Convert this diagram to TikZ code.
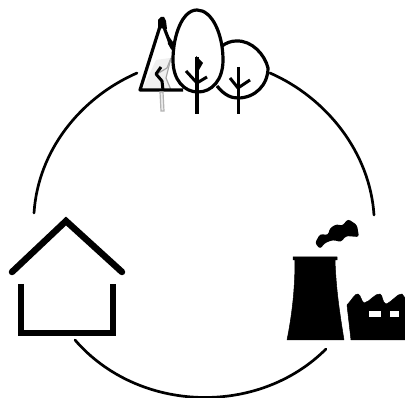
\documentclass[tikz,border=0pt]{standalone}
\tikzset{
    ring/.style={line width=2.7pt, line cap=round},
    outline/.style={line width=3.2pt, line join=round},
    twig/.style={line width=3pt, line cap=butt, line join=round},
    wall/.style={line width=6.5pt, line join=miter},
    solid black/.style={fill=black, draw=black, line width=0.5pt, line join=round}
}
\begin{document}
\begin{tikzpicture}[x=1pt, y=-1pt]
    \useasboundingbox (0,0) rectangle (405,398);

    % Ring between the three symbols
    \coordinate (TL) at (137,73);
    \coordinate (ML) at (34,213);
    \coordinate (TR) at (270,73);
    \coordinate (MR) at (374,215);
    \coordinate (BL) at (75,340);
    \coordinate (BR) at (326,349);
    \draw[ring] (TL) .. controls (80,98) and (38,151) .. (ML);
    \draw[ring] (TR) .. controls (327,98) and (370,153) .. (MR);
    \draw[ring] (BL) .. controls (138,413) and (258,417) .. (BR);

    % Conifer
    \fill[gray!12] (142,90) -- (156,60) -- (170,58) -- (166,78) -- (170,90) -- cycle;
    \draw[gray!70, line width=1.2pt] (171,58) -- (167,68) -- (157,74);
    \draw[gray!70, line width=1.2pt] (171,58) -- (166,78) -- (171,90);
    \draw[outline] (172,48) -- (165,30) -- (162,20) -- (140,90) -- (183,90);
    \fill (158,20) -- (161,17) -- (164,17) -- (166,21) -- (167,29) -- (158,28) -- cycle;
    \fill (167,34) -- (173,42) -- (173,52) -- (168,44) -- cycle;
    \draw[gray!60, line width=1.2pt, fill=gray!15] (160,92) -- (161,111) -- (164,111) -- (163,92) -- cycle;
    \draw[twig] (163,90) -- (162,81) -- (156,74) -- (161,67);

    % Small tree
    \draw[outline] (217,86) .. controls (225,96) and (232,98) .. (238,98)
        .. controls (255,98) and (268,85) .. (268,68)
        .. controls (265,55) and (252,40) .. (236,41)
        .. controls (231,41) and (226,43) .. (222,46);
    \draw[line width=3pt] (238,67) -- (238,114);
    \draw[twig] (230,78) -- (238,88) -- (250,80);

    % Big tree
    \draw[outline, fill=white] (197,10) .. controls (182,10) and (173,36) .. (173,60)
        .. controls (173,80) and (184,92) .. (198,92)
        .. controls (212,92) and (223,80) .. (223,60)
        .. controls (223,34) and (212,10) .. (197,10) -- cycle;
    \draw[line width=3.4pt] (197,57) -- (197,114);
    \fill (196,56) -- (203,63) -- (199,70) -- cycle;
    \draw[twig] (186,71) -- (197,83) -- (207,77);

    % House
    \draw[wall, line cap=round] (12,272) -- (66,221) -- (122,272);
    \draw[wall] (21,284) -- (21,333) -- (113,333) -- (113,284);

    % Cooling tower with smoke
    \draw[solid black] (293,257) -- (337,257) -- (337,260) -- (335,260)
        .. controls (336,290) and (340,315) .. (344,340)
        -- (287,340) .. controls (292,315) and (295,290) .. (295,260)
        -- (293,260) -- cycle;
    \fill[black, rounded corners=2.5pt] (315,243) -- (320,234) -- (328,235) -- (330,228)
        -- (337,224) -- (342,226) -- (348,219) -- (357,225) -- (359,237) -- (346,236)
        -- (341,242) -- (333,240) -- (325,243) -- (320,249) -- cycle;

    % Factory
    \draw[solid black] (351,340) -- (347,305) .. controls (352,300) and (355,293) .. (358,294)
        .. controls (361,295) and (361,301) .. (364,303)
        .. controls (370,302) and (375,293) .. (380,294)
        .. controls (383,295) and (382,303) .. (386,304)
        .. controls (392,302) and (398,293) .. (402,294)
        -- (405,298) -- (405,340) -- cycle;
    \fill[white] (369,311) rectangle (381,317);
    \fill[white] (390,311) rectangle (399,317);
\end{tikzpicture}
\end{document}
